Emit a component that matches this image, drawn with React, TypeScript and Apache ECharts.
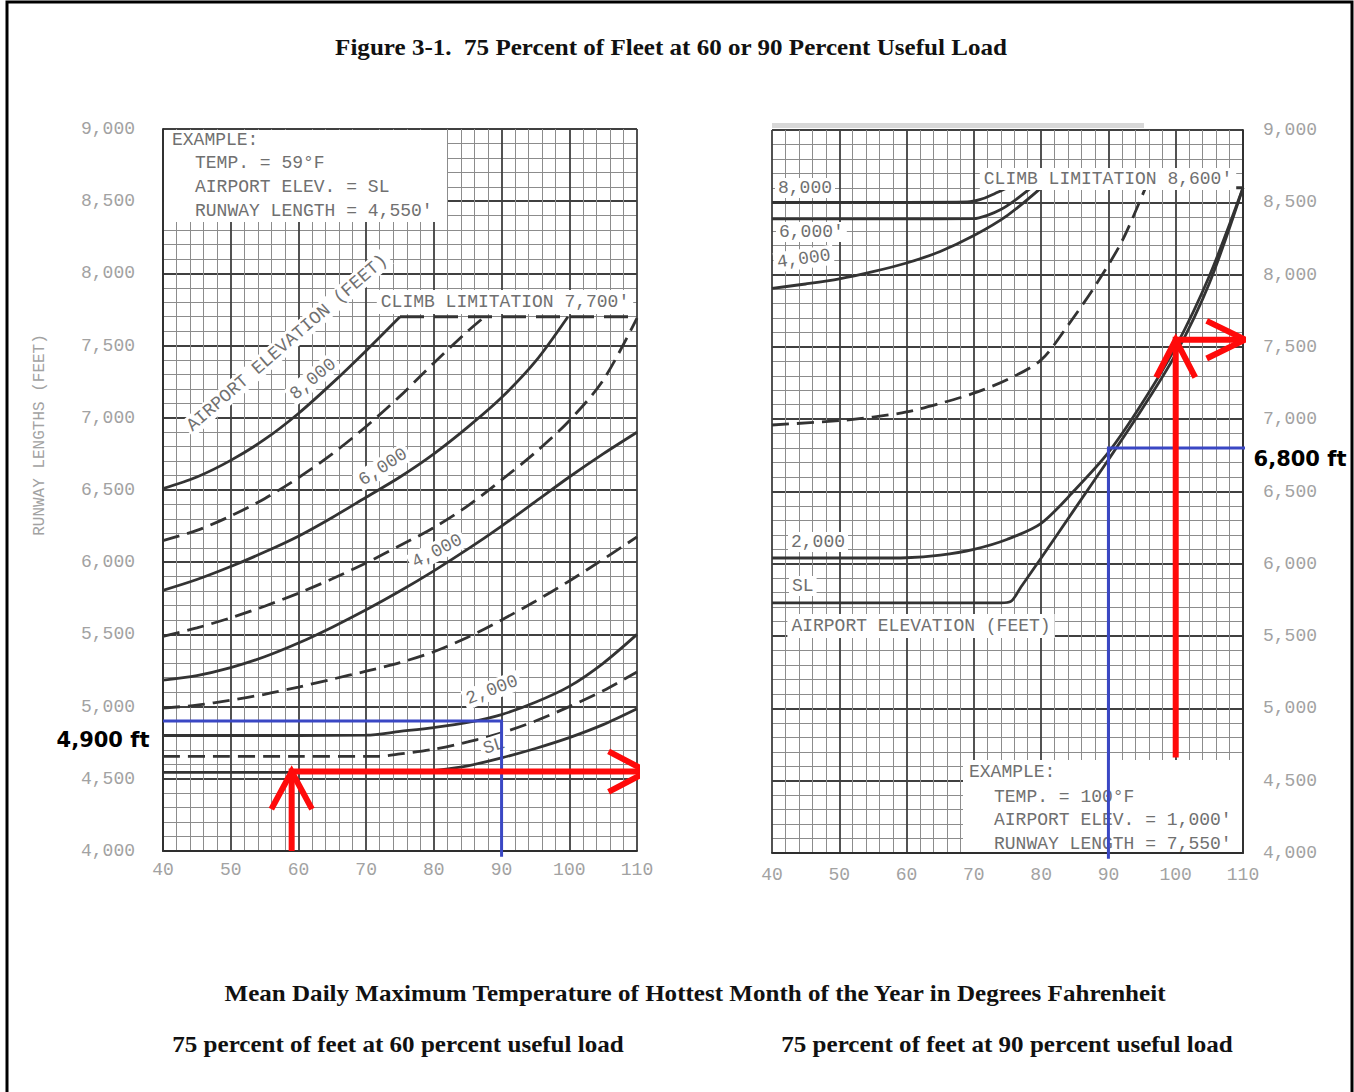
import React, { useEffect, useRef } from 'react';
import * as echarts from 'echarts';

// ---------- axes ----------
const tempRange = [40, 110];      // °F
const tempStep = 10;
const runwayRange = [4000, 9000]; // feet
const runwayStep = 500;

// ---------- left panel: 60 percent useful load (temp °F, runway ft) ----------
const l60_sl = [[40,4545],[60,4545],[78,4548],[80,4556],[85,4590],[90,4645],[95,4710],[100,4785],[105,4875],[110,4985]];
const l60_1000 = [[40,4655],[60,4655],[72,4656],[75,4672],[80,4705],[85,4755],[90,4818],[95,4900],[100,5000],[105,5110],[110,5240]];
const l60_2000 = [[40,4800],[60,4800],[70,4802],[75,4828],[80,4855],[85,4890],[90,4945],[95,5030],[100,5140],[105,5300],[110,5500]];
const l60_3000 = [[40,4990],[45,5010],[50,5045],[55,5085],[60,5135],[65,5190],[70,5245],[75,5305],[80,5380],[85,5480],[90,5600],[95,5730],[100,5870],[105,6020],[110,6175]];
const l60_4000 = [[40,5183],[45,5215],[50,5270],[55,5345],[60,5440],[65,5550],[70,5670],[75,5800],[80,5940],[85,6090],[90,6250],[95,6420],[100,6590],[105,6750],[110,6900]];
const l60_5000 = [[40,5487],[45,5545],[50,5615],[55,5695],[60,5785],[65,5885],[70,5995],[75,6115],[80,6240],[85,6390],[90,6570],[95,6760],[100,6980],[105,7260],[110,7690]];
const l60_6000 = [[40,5805],[45,5880],[50,5970],[55,6070],[60,6180],[65,6310],[70,6450],[75,6590],[80,6750],[85,6935],[90,7140],[95,7390],[99.8,7700]];
const l60_7000 = [[40,6150],[45,6220],[50,6320],[55,6440],[60,6585],[65,6750],[70,6940],[75,7150],[80,7380],[85,7600],[87.5,7700]];
const l60_8000 = [[40,6510],[45,6590],[50,6705],[55,6850],[60,7030],[65,7240],[70,7465],[75,7700]];
const l60_climb = [[75,7700],[110,7700]];

// ---------- right panel: 90 percent useful load ----------
const r90_sl = [[40,5730],[74,5730],[75.5,5740],[77,5840],[80,6040],[85,6380],[90,6720],[95,7070],[100,7450],[105,7940],[110,8600]];
const r90_2000 = [[40,6040],[55,6040],[60,6042],[65,6060],[70,6100],[75,6170],[80,6280],[85,6510],[90,6770],[95,7110],[100,7500],[105,7990],[110,8600]];
const r90_3000 = [[40,6960],[50,6990],[55,7015],[60,7050],[65,7110],[70,7180],[75,7275],[80,7410],[84,7650],[88,7920],[92,8230],[95.5,8600]];
const r90_4000 = [[40,7905],[45,7935],[50,7970],[55,8020],[60,8080],[65,8160],[70,8270],[75,8410],[80,8600]];
const r90_6000 = [[40,8385],[60,8385],[70,8387],[72,8410],[74,8450],[76,8510],[78.5,8600]];
const r90_8000 = [[40,8500],[60,8500],[69,8502],[71,8520],[73,8558],[75,8600]];
const r90_climb = [[78,8600],[110,8600]];

// ---------- worked-example annotations ----------
const l60_red = [[59,4000],[59,4550],[111.5,4550]];
const l60_redHeadUp = [[56,4290],[59,4550],[62,4290]];
const l60_redHeadRight = [[105.8,4690],[111.5,4550],[105.8,4410]];
const l60_blue = [[40,4900],[90,4900],[90,3960]];
const r90_blue = [[90,3960],[90,6800],[110.8,6800]];
const r90_red = [[100,4660],[100,7550],[110.3,7550]];
const r90_redHeadUp = [[97.1,7290],[100,7550],[102.9,7290]];
const r90_redHeadRight = [[104.6,7680],[110.3,7550],[104.6,7420]];

const INK = '#333333';
const LABEL = '#707070';
const TICK = '#a2a2a2';
const RED = '#ff0a0a';
const BLUE = '#3a47c4';
const MONO = '"Liberation Mono", "Courier New", monospace';
const SERIF = '"Liberation Serif", "Times New Roman", serif';

function curve(data: number[][], dashed: boolean, idx: number) {
  return {
    type: 'line', xAxisIndex: idx, yAxisIndex: idx, data, symbol: 'none', silent: true,
    smooth: 0.3, z: 3,
    lineStyle: { color: INK, width: 2.8, type: dashed ? [17, 8] : 'solid' },
  };
}
function mark(data: number[][], color: string, width: number, idx: number, z: number) {
  return {
    type: 'line', xAxisIndex: idx, yAxisIndex: idx, data, symbol: 'none', silent: true,
    clip: false, z, lineStyle: { color, width, join: 'miter' },
  };
}

function xAxis(idx: number, margin: number) {
  return {
    type: 'value', gridIndex: idx, min: tempRange[0], max: tempRange[1], interval: tempStep,
    axisLine: { show: true, onZero: false, lineStyle: { color: '#2e2e2e', width: 2 } },
    axisTick: { show: false },
    axisLabel: { color: TICK, fontFamily: MONO, fontSize: 18, margin },
    splitLine: { show: true, lineStyle: { color: '#404040', width: 1.8 } },
    minorTick: { show: false, splitNumber: 5 },
    minorSplitLine: { show: true, lineStyle: { color: '#8c8c8c', width: 1 } },
  };
}
function yAxis(idx: number, position: string, margin: number) {
  return {
    type: 'value', gridIndex: idx, position, min: runwayRange[0], max: runwayRange[1], interval: runwayStep,
    axisLine: { show: true, onZero: false, lineStyle: { color: '#2e2e2e', width: 1.8 } },
    axisTick: { show: false },
    axisLabel: {
      color: TICK, fontFamily: MONO, fontSize: 18, margin,
      formatter: (v: number) => v.toLocaleString('en-US'),
    },
    splitLine: { show: true, lineStyle: { color: '#404040', width: 1.8 } },
    minorTick: { show: false, splitNumber: 5 },
    minorSplitLine: { show: true, lineStyle: { color: '#8c8c8c', width: 1 } },
  };
}

function txt(text: string, x: number, y: number, o: any = {}) {
  const style: any = {
    text, fill: o.fill || LABEL,
    font: o.font || `18px ${MONO}`,
    textAlign: o.align || 'center', textVerticalAlign: 'middle',
    align: o.align || 'center', verticalAlign: 'middle',
  };
  if (o.bg) { style.backgroundColor = '#ffffff'; style.padding = o.pad || [1, 3]; }
  return {
    type: 'text', x, y, rotation: ((o.rot || 0) * Math.PI) / 180, scaleX: o.sx || 1,
    z: o.z ?? 10, silent: true, style,
  };
}

export default function App() {
  const ref = useRef<HTMLDivElement>(null);
  useEffect(() => {
    document.body.style.margin = '0';
    const chart = echarts.init(ref.current!, null, { renderer: 'svg' });
    const heading = { fill: '#111', font: `bold 23px ${SERIF}`, sx: 1.09 };
    const option: any = {
      animation: false,
      backgroundColor: '#ffffff',
      grid: [
        { left: 163, top: 129, width: 474, height: 722 },
        { left: 772, top: 130, width: 471, height: 723 },
      ],
      xAxis: [xAxis(0, 10), xAxis(1, 13)],
      yAxis: [yAxis(0, 'left', 28), yAxis(1, 'right', 20)],
      series: [
        curve(l60_sl, false, 0), curve(l60_1000, true, 0), curve(l60_2000, false, 0),
        curve(l60_3000, true, 0), curve(l60_4000, false, 0), curve(l60_5000, true, 0),
        curve(l60_6000, false, 0), curve(l60_7000, true, 0), curve(l60_8000, false, 0),
        { ...curve(l60_climb, true, 0), smooth: false, lineStyle: { color: INK, width: 3, type: [24, 10] } },
        curve(r90_sl, false, 1), curve(r90_2000, false, 1), curve(r90_3000, true, 1),
        curve(r90_4000, false, 1), curve(r90_6000, false, 1), curve(r90_8000, false, 1),
        { ...curve(r90_climb, true, 1), smooth: false, lineStyle: { color: INK, width: 3, type: [24, 10] } },
        mark(l60_blue, BLUE, 3, 0, 20),
        mark(r90_blue, BLUE, 3, 1, 20),
        mark(l60_red, RED, 6, 0, 21), mark(l60_redHeadUp, RED, 6, 0, 21), mark(l60_redHeadRight, RED, 6, 0, 21),
        mark(r90_red, RED, 6, 1, 21), mark(r90_redHeadUp, RED, 6, 1, 21), mark(r90_redHeadRight, RED, 6, 1, 21),
      ],
      graphic: [
        // scan shading above the right panel
        { type: 'rect', z: 1, silent: true, shape: { x: 772, y: 123, width: 372, height: 5 }, style: { fill: '#d8d8d8' } },
        // white panels over the graph paper
        { type: 'rect', z: 1, silent: true, shape: { x: 164, y: 130, width: 283, height: 92 }, style: { fill: '#fff' } },
        { type: 'rect', z: 1, silent: true, shape: { x: 963, y: 760, width: 279, height: 92 }, style: { fill: '#fff' } },
        // left example
        txt('EXAMPLE:', 172, 140, { align: 'left', z: 2 }),
        txt('TEMP. = 59°F', 195, 163, { align: 'left', z: 2 }),
        txt('AIRPORT ELEV. = SL', 195, 187, { align: 'left', z: 2 }),
        txt("RUNWAY LENGTH = 4,550'", 195, 211, { align: 'left', z: 2 }),
        txt("CLIMB LIMITATION 7,700'", 505, 302, { bg: true, pad: [3, 4] }),
        txt('AIRPORT ELEVATION (FEET)', 287, 343, { bg: true, rot: 41 }),
        txt('8,000', 313, 379, { bg: true, rot: 40 }),
        txt('6,000', 383, 467, { bg: true, rot: 33 }),
        txt('4,000', 437, 551, { bg: true, rot: 27 }),
        txt('2,000', 492, 690, { bg: true, rot: 21 }),
        txt('SL', 494, 746, { bg: true, rot: 18, z: 4 }),
        // right labels
        txt('8,000', 775, 188, { bg: true, align: 'left' }),
        txt("6,000'", 776, 232, { bg: true, align: 'left' }),
        txt('4,000', 774, 263, { bg: true, align: 'left', rot: 8 }),
        txt("CLIMB LIMITATION 8,600'", 1108, 179, { bg: true, pad: [2, 4] }),
        txt('2,000', 788, 542, { bg: true, align: 'left' }),
        txt('SL', 789, 586, { bg: true, align: 'left' }),
        txt('AIRPORT ELEVATION (FEET)', 921, 626, { bg: true, pad: [3, 4] }),
        txt('EXAMPLE:', 969, 772, { align: 'left', z: 2 }),
        txt('TEMP. = 100°F', 994, 797, { align: 'left', z: 2 }),
        txt("AIRPORT ELEV. = 1,000'", 994, 820, { align: 'left', z: 2 }),
        txt("RUNWAY LENGTH = 7,550'", 994, 844, { align: 'left', z: 2 }),
        // axis title
        txt('RUNWAY LENGTHS (FEET)', 40, 435, { rot: 90, fill: TICK, font: `16px ${MONO}` }),
        // annotation values
        txt('4,900 ft', 103, 740, { fill: '#000', font: `bold 21px "DejaVu Sans"` }),
        txt('6,800 ft', 1300, 459, { fill: '#000', font: `bold 21px "DejaVu Sans"` }),
        // titles
        txt('Figure 3-1.  75 Percent of Fleet at 60 or 90 Percent Useful Load', 671, 47, heading),
        txt('Mean Daily Maximum Temperature of Hottest Month of the Year in Degrees Fahrenheit', 695, 993, heading),
        txt('75 percent of feet at 60 percent useful load', 398, 1044, heading),
        txt('75 percent of feet at 90 percent useful load', 1007, 1044, heading),
        // frame
        { type: 'rect', z: 30, silent: true, shape: { x: 7, y: 2, width: 1345, height: 1100 }, style: { fill: 'none', stroke: '#000', lineWidth: 3 } },
      ],
    };
    chart.setOption(option);
    return () => chart.dispose();
  }, []);
  return <div ref={ref} style={{ width: 1354, height: 1092 }} />;
}
